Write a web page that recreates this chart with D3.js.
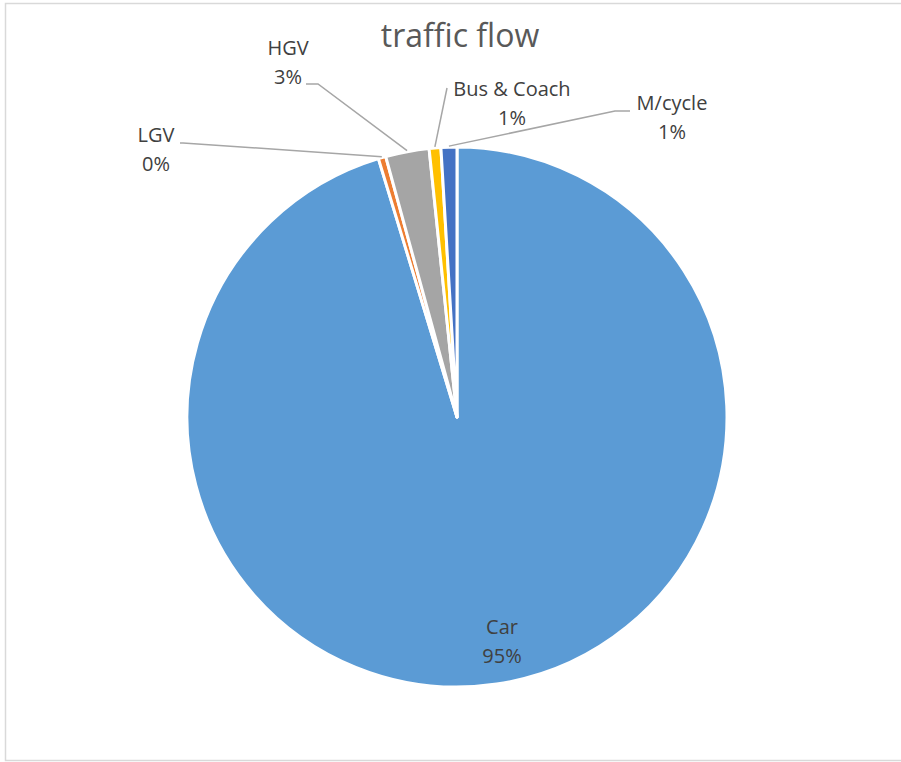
<!DOCTYPE html>
<html>
<head>
<meta charset="utf-8">
<script src="https://cdn.jsdelivr.net/npm/d3@7"></script>
<style>
  html, body { margin: 0; padding: 0; background: #fff; }
  svg { display: block; }
  text { font-family: "Open Sans", "Noto Sans", sans-serif; }
</style>
</head>
<body>
<svg id="chart" width="901" height="762"></svg>
<script>
const title = "traffic flow";
const categories = ["Car", "LGV", "HGV", "Bus & Coach", "M/cycle"];
const values = [95.3, 0.45, 2.6, 0.7, 0.95];
const percentLabels = ["95%", "0%", "3%", "1%", "1%"];
const colors = ["#5B9BD5", "#ED7D31", "#A5A5A5", "#FFC000", "#4472C4"];

const svg = d3.select("#chart");
const W = 901, H = 762;

// chart border
svg.append("rect")
  .attr("x", 5.5).attr("y", 3.5)
  .attr("width", W + 10).attr("height", 757)
  .attr("fill", "#fff").attr("stroke", "#d9d9d9").attr("stroke-width", 1.5);

// title
svg.append("text")
  .attr("x", 460).attr("y", 47)
  .attr("text-anchor", "middle")
  .attr("font-size", 32)
  .attr("fill", "#595959")
  .text(title);

const cx = 457, cy = 417, R = 270;
const data = categories.map((c, i) => ({ name: c, value: values[i], pct: percentLabels[i], color: colors[i] }));

const pie = d3.pie().value(d => d.value).sort(null);
const arcs = pie(data);
const arc = d3.arc().innerRadius(0).outerRadius(R);

const g = svg.append("g").attr("transform", `translate(${cx},${cy})`);
g.selectAll("path.slice").data(arcs).enter().append("path")
  .attr("class", "slice")
  .attr("d", arc)
  .attr("fill", d => d.data.color)
  .attr("stroke", "#fff")
  .attr("stroke-width", 3)
  .attr("stroke-linejoin", "round");

// label layout (label centre positions and leader line elbows)
const labelPos = {
  "Car":         { x: 502, y: 634, leader: null },
  "LGV":         { x: 156, y: 142, leader: { elbowX: 183, startX: 180, y: 143 } },
  "HGV":         { x: 288, y: 55,  leader: { elbowX: 318, startX: 306, y: 84 } },
  "Bus & Coach": { x: 512, y: 96,  leader: { elbowX: 447, startX: 447, y: 88 } },
  "M/cycle":     { x: 672, y: 110, leader: { elbowX: 615, startX: 630, y: 111 } }
};

const lineGen = d3.line();
arcs.forEach(a => {
  const lp = labelPos[a.data.name];
  if (lp.leader) {
    const mid = (a.startAngle + a.endAngle) / 2;
    const rr = R + 1;
    const px = cx + Math.sin(mid) * rr;
    const py = cy - Math.cos(mid) * rr;
    svg.append("path")
      .attr("d", lineGen([[lp.leader.startX, lp.leader.y], [lp.leader.elbowX, lp.leader.y], [px, py]]))
      .attr("fill", "none")
      .attr("stroke", "#a6a6a6")
      .attr("stroke-width", 1.5);
  }
  const t = svg.append("text")
    .attr("text-anchor", "middle")
    .attr("font-size", 20)
    .attr("fill", "#404040");
  t.append("tspan").attr("x", lp.x).attr("y", lp.y).text(a.data.name);
  t.append("tspan").attr("x", lp.x).attr("y", lp.y + 29).text(a.data.pct);
});
</script>
</body>
</html>
